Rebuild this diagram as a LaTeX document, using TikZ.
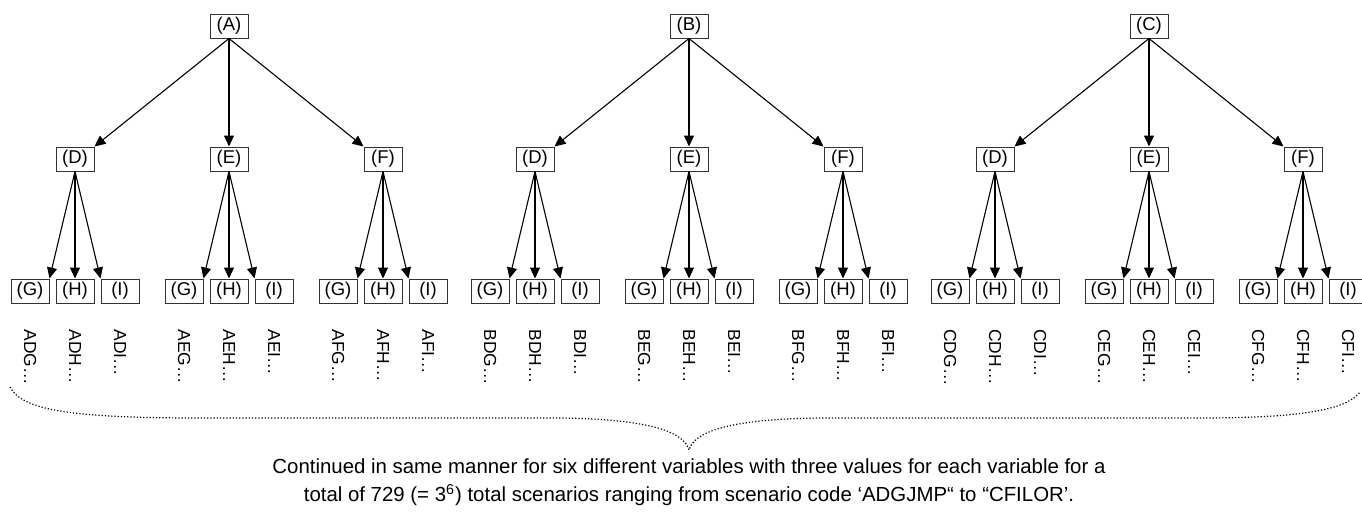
\documentclass[tikz,border=0pt]{standalone}
\usepackage{fontspec}
\setmainfont{Liberation Sans}
\usetikzlibrary{arrows.meta}
\tikzset{
  box/.style={draw=black!80,line width=0.5pt,minimum width=19pt,minimum height=12pt,inner sep=0pt,font=\fontsize{9.25}{10}\selectfont},
  arr/.style={-{Triangle[length=5.5pt,width=5pt]},line width=0.55pt},
  code/.style={rotate=-90,anchor=west,inner sep=0pt,font=\fontsize{8.7}{10}\selectfont}
}
\begin{document}
\begin{tikzpicture}[x=0.5pt,y=-0.5pt]
  \useasboundingbox (0,0) rectangle (1362,511);
  % three trees, one per first variable
  \foreach \a/\ax [count=\i] in {A/229,B/689,C/1149}
  {
    \node[box] (top\i) at (\ax,26) {(\a)};
    \foreach \b/\dx/\tip [count=\j] in {D/-154/north east,E/0/north,F/154/north west}
    {
      \node[box] (mid\i\j) at ({\ax+(\dx)},159) {(\b)};
      \draw[arr] (top\i.south) -- (mid\i\j.\tip);
      %% leaves + scenario codes
      \foreach \c/\cx/\ctip [count=\k] in {G/-45/north east,H/0/north,I/45/north west}
      {
        \node[box] (bot\i\j\k) at ({\ax+(\dx)+(\cx)},291) {(\c)};
        \draw[arr] (mid\i\j.south) -- (bot\i\j\k.\ctip);
        \node[code] (code\i\j\k) at ({\ax+(\dx)+(\cx)},329) {\a\b\c…};
      }
    }
  }
  % the dotted brace
  \draw[densely dotted,line width=0.6pt] (10,387) .. controls (22,410) and (70,418) .. (200,418)
    -- (560,418) .. controls (650,419) and (684,432) .. (689,450)
    .. controls (694,432) and (728,419) .. (820,418) -- (1200,418)
    .. controls (1310,418) and (1348,408) .. (1360,392);
  \node[align=center,font=\fontsize{10.2}{12}\selectfont] (note) at (689,482)
    {Continued in same manner for six different variables with three values for each variable for a\\[2pt]
     total of 729 (= 3\textsuperscript{6}) total scenarios ranging from scenario code ‘ADGJMP“ to “CFILOR’.};
\end{tikzpicture}
\end{document}
